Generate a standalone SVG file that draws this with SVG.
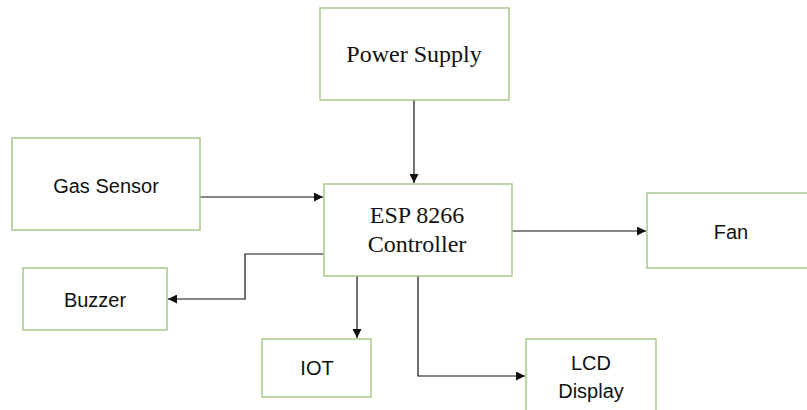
<svg xmlns="http://www.w3.org/2000/svg" width="807" height="410" viewBox="0 0 807 410">
<style>
.box{fill:#fff;stroke:#a8c98c;stroke-width:1.5}
.serif{font-family:"Liberation Serif","Times New Roman",serif;font-size:24px;fill:#111;text-anchor:middle}
.sans{font-family:"Liberation Sans",Arial,sans-serif;font-size:20px;fill:#111;text-anchor:middle}
.conn{fill:none;stroke:#111;stroke-width:1.2;marker-end:url(#ah)}
</style>
<defs>
<marker id="ah" viewBox="0 0 10 10" refX="10" refY="5" markerWidth="9" markerHeight="9" markerUnits="userSpaceOnUse" orient="auto">
<path d="M0,0 L10,5 L0,10 z" fill="#111"/>
</marker>
</defs>
<rect width="807" height="410" fill="#fff"/>
<g id="connectors">
<path class="conn" d="M414,100 V183"/>
<path class="conn" d="M200,197 H323"/>
<path class="conn" d="M324,254 H245 V299 H168"/>
<path class="conn" d="M512,231 H646"/>
<path class="conn" d="M357,276 V338"/>
<path class="conn" d="M418,276 V376 H525"/>
</g>
<g id="power-supply"><rect class="box" x="320" y="8" width="189" height="92"/><text class="serif" x="414" y="62">Power Supply</text></g>
<g id="esp8266"><rect class="box" x="324" y="184" width="188" height="92"/><text class="serif" x="417" y="223">ESP 8266</text><text class="serif" x="417" y="252">Controller</text></g>
<g id="gas-sensor"><rect class="box" x="12" y="138" width="188" height="92"/><text class="sans" x="106" y="193">Gas Sensor</text></g>
<g id="buzzer"><rect class="box" x="23" y="268" width="144" height="62"/><text class="sans" x="95" y="307">Buzzer</text></g>
<g id="fan"><rect class="box" x="647" y="193" width="165" height="75"/><text class="sans" x="731" y="239">Fan</text></g>
<g id="iot"><rect class="box" x="262" y="339" width="109" height="58"/><text class="sans" x="317" y="375">IOT</text></g>
<g id="lcd"><rect class="box" x="526" y="339" width="130" height="80"/><text class="sans" x="591" y="370">LCD</text><text class="sans" x="591" y="398">Display</text></g>
</svg>
